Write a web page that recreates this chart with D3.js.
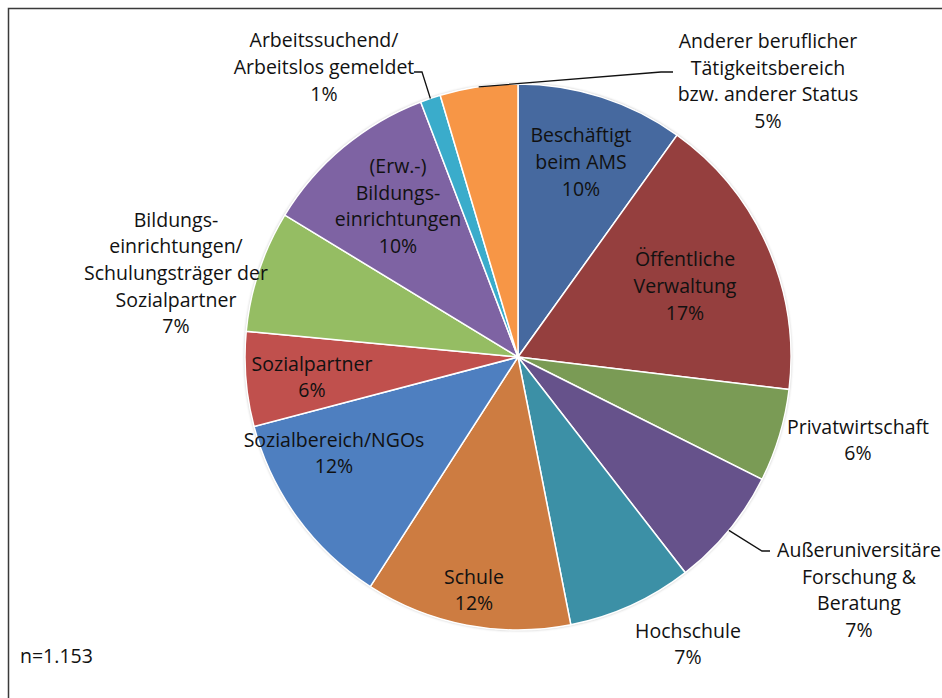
<html>
<head>
  <meta charset="utf-8">
  <script src="https://d3js.org/d3.v7.min.js"></script>
  <style>
    body { margin: 0; background: #fff; }
    text { font-family: "Open Sans", Lato, sans-serif; fill: #111; }
  </style>
</head>
<body>
  <svg id="pie" width="942" height="698"></svg>
  <script>
    // slices, clockwise from 12 o'clock
    const categories = [
      ["Beschäftigt", "beim AMS"],
      ["Öffentliche", "Verwaltung"],
      ["Privatwirtschaft"],
      ["Außeruniversitäre", "Forschung &", "Beratung"],
      ["Hochschule"],
      ["Schule"],
      ["Sozialbereich/NGOs"],
      ["Sozialpartner"],
      ["Bildungs-", "einrichtungen/", "Schulungsträger der", "Sozialpartner"],
      ["(Erw.-)", "Bildungs-", "einrichtungen"],
      ["Arbeitssuchend/", "Arbeitslos gemeldet"],
      ["Anderer beruflicher", "Tätigkeitsbereich", "bzw. anderer Status"]
    ];
    const values = [9.9, 17.0, 5.5, 7.1, 7.4, 12.2, 11.8, 5.6, 7.2, 10.5, 1.2, 4.6];
    const percentLabels = ["10%", "17%", "6%", "7%", "7%", "12%", "12%", "6%", "7%", "10%", "1%", "5%"];
    const colors = ["#46699f", "#953f3e", "#7a9b55", "#66528b", "#3c90a6", "#cd7c41",
                    "#4e7fc0", "#c0504d", "#95bd63", "#7e63a3", "#3aaccb", "#f79646"];

    // label centres (layout only)
    const labelAt = [[581, 162], [685, 286], [858, 440], [859, 590], [688, 644], [474, 590],
                     [334, 453], [312, 377], [176, 273], [398, 206], [324, 67], [768, 81]];

    const svg = d3.select("svg#pie");
    const cx = 518, cy = 357, radius = 273;
    const lineH = 26.7;

    // chart frame
    svg.append("rect")
      .attr("x", 8.5).attr("y", 8.5)
      .attr("width", 960).attr("height", 720)
      .attr("fill", "none")
      .attr("stroke", "#3a3a3a")
      .attr("stroke-width", 1.5);

    const defs = svg.append("defs");
    const shadow = defs.append("filter").attr("id", "shadow")
      .attr("x", "-10%").attr("y", "-10%").attr("width", "120%").attr("height", "120%");
    shadow.append("feDropShadow")
      .attr("dx", 0).attr("dy", 0).attr("stdDeviation", 1.5)
      .attr("flood-color", "#000").attr("flood-opacity", 0.35);

    const pie = d3.pie().sort(null).value(d => d)(values);
    const arc = d3.arc().innerRadius(0).outerRadius(radius);

    const g = svg.append("g").attr("transform", `translate(${cx},${cy})`);

    g.append("circle").attr("r", radius).attr("fill", "#fff").attr("filter", "url(#shadow)");

    g.selectAll("path.slice")
      .data(pie)
      .join("path")
      .attr("class", "slice")
      .attr("d", arc)
      .attr("fill", (d, i) => colors[i])
      .attr("stroke", "#fff")
      .attr("stroke-width", 1.5);

    // leader lines for small outside labels: from label end to slice edge
    const edge = i => {
      const a = (pie[i].startAngle + pie[i].endAngle) / 2;
      return [cx + Math.sin(a) * radius, cy - Math.cos(a) * radius];
    };
    const leaders = [
      { i: 10, pts: [[414, 72], [422, 72]] },
      { i: 11, pts: [[673, 72], [661, 72]] },
      { i: 3, pts: [[770, 551], [762, 551]] }
    ];
    leaders.forEach(l => {
      svg.append("path")
        .attr("d", d3.line()(l.pts.concat([edge(l.i)])))
        .attr("fill", "none")
        .attr("stroke", "#111")
        .attr("stroke-width", 1.3);
    });

    // labels
    categories.forEach((lines, i) => {
      const all = lines.concat([percentLabels[i]]);
      const [lx, ly] = labelAt[i];
      const t = svg.append("text")
        .attr("text-anchor", "middle")
        .style("font-size", "19.5px");
      all.forEach((s, k) => {
        t.append("tspan")
          .attr("x", lx)
          .attr("y", ly + (k - (all.length - 1) / 2) * lineH + 7)
          .text(s);
      });
    });

    svg.append("text")
      .attr("x", 20).attr("y", 663)
      .style("font-size", "19.5px")
      .text("n=1.153");
  </script>
</body>
</html>
